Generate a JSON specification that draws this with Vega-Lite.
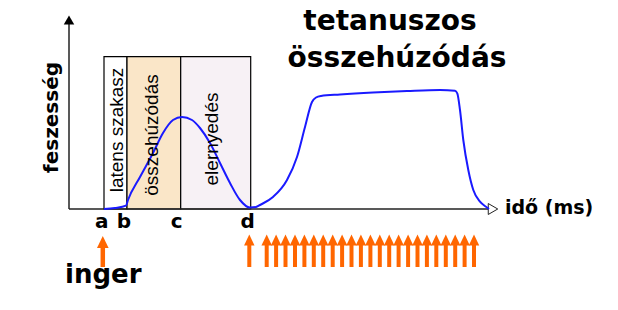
{
  "$schema": "https://vega.github.io/schema/vega-lite/v6.json",
  "width": 618,
  "height": 310,
  "padding": 0,
  "autosize": {"type": "none"},
  "background": "white",
  "config": {"view": {"stroke": null}},
  "datasets": {
    "phases": [
      {"phase": "latens", "t0": 35, "t1": 58, "f0": 0, "f1": 152.3},
      {"phase": "osszehuzodas", "t0": 58, "t1": 111.7, "f0": 0, "f1": 152.3},
      {"phase": "elernyedes", "t0": 111.7, "t1": 181.7, "f0": 0, "f1": 152.3}
    ],
    "axes": [
      {"t": 0, "f": 0, "t2": 0, "f2": 186},
      {"t": 0, "f": 0, "t2": 419, "f2": 0}
    ],
    "heads": [
      {"dir": "up", "t": 0, "f": 189},
      {"dir": "right", "t": 424, "f": 0}
    ],
    "curve": [
      {"t": 35, "f": 0}, {"t": 46, "f": 1}, {"t": 57, "f": 3.3}, {"t": 59, "f": 9},
      {"t": 71, "f": 32}, {"t": 84, "f": 56}, {"t": 94, "f": 76}, {"t": 104, "f": 89},
      {"t": 113, "f": 92}, {"t": 123, "f": 89}, {"t": 131, "f": 81}, {"t": 141, "f": 66},
      {"t": 151, "f": 46}, {"t": 161, "f": 26}, {"t": 171, "f": 9}, {"t": 181, "f": 1.5},
      {"t": 187, "f": 2}, {"t": 191, "f": 4}, {"t": 204, "f": 12}, {"t": 218, "f": 29},
      {"t": 228, "f": 52}, {"t": 236, "f": 82}, {"t": 243, "f": 107}, {"t": 247, "f": 111.5},
      {"t": 252, "f": 113}, {"t": 271, "f": 114.5}, {"t": 304, "f": 116.5}, {"t": 338, "f": 118},
      {"t": 371, "f": 119}, {"t": 386, "f": 118.3}, {"t": 388.3, "f": 115.7}, {"t": 391, "f": 99},
      {"t": 394.3, "f": 69}, {"t": 399.3, "f": 39}, {"t": 404.3, "f": 19}, {"t": 411, "f": 7.3},
      {"t": 417.7, "f": 1.7}, {"t": 420, "f": 0}
    ],
    "arrows": [
      {"kind": "inger", "t": 33.8},
      {"kind": "tetanusz", "t": 180.3},
      {"kind": "tetanusz", "t": 197.7}, {"kind": "tetanusz", "t": 207.1},
      {"kind": "tetanusz", "t": 216.5}, {"kind": "tetanusz", "t": 226.0},
      {"kind": "tetanusz", "t": 235.4}, {"kind": "tetanusz", "t": 244.8},
      {"kind": "tetanusz", "t": 254.2}, {"kind": "tetanusz", "t": 263.7},
      {"kind": "tetanusz", "t": 273.1}, {"kind": "tetanusz", "t": 282.5},
      {"kind": "tetanusz", "t": 291.9}, {"kind": "tetanusz", "t": 301.4},
      {"kind": "tetanusz", "t": 310.8}, {"kind": "tetanusz", "t": 320.2},
      {"kind": "tetanusz", "t": 329.6}, {"kind": "tetanusz", "t": 339.1},
      {"kind": "tetanusz", "t": 348.5}, {"kind": "tetanusz", "t": 357.9},
      {"kind": "tetanusz", "t": 367.3}, {"kind": "tetanusz", "t": 376.8},
      {"kind": "tetanusz", "t": 386.2}, {"kind": "tetanusz", "t": 395.6},
      {"kind": "tetanusz", "t": 405.0}
    ],
    "labels": [
      {"role": "title", "text": "tetanuszos", "t": 321, "f": 179},
      {"role": "title", "text": "összehúzódás", "t": 328, "f": 142},
      {"role": "point", "text": "a", "t": 32.7, "f": -19},
      {"role": "point", "text": "b", "t": 55, "f": -19},
      {"role": "point", "text": "c", "t": 107.7, "f": -19},
      {"role": "point", "text": "d", "t": 178.7, "f": -19},
      {"role": "inger", "text": "inger", "t": 34.3, "f": -74},
      {"role": "xlabel", "text": "idő (ms)", "t": 436, "f": -5},
      {"role": "ylabel", "text": "feszesség", "t": -10.7, "f": 91.5},
      {"role": "phase", "text": "latens szakasz", "t": 54, "f": 79},
      {"role": "phase", "text": "összehúzódás", "t": 89.3, "f": 74},
      {"role": "phase", "text": "elernyedés", "t": 149.3, "f": 70}
    ]
  },
  "layer": [
    {
      "data": {"name": "phases"},
      "mark": {"type": "rect", "stroke": "black", "strokeWidth": 1.2},
      "encoding": {
        "x": {"field": "t0", "type": "quantitative", "scale": {"domain": [-69, 549], "nice": false, "zero": false}, "axis": null},
        "x2": {"field": "t1"},
        "y": {"field": "f0", "type": "quantitative", "scale": {"domain": [-101, 209], "nice": false, "zero": false}, "axis": null},
        "y2": {"field": "f1"},
        "color": {"field": "phase", "type": "nominal", "legend": null,
          "scale": {"domain": ["latens", "osszehuzodas", "elernyedes"], "range": ["#ffffff", "#fae6c8", "#f7f1f5"]}}
      }
    },
    {
      "data": {"name": "axes"},
      "mark": {"type": "rule", "color": "#222222", "strokeWidth": 1.5},
      "encoding": {
        "x": {"field": "t", "type": "quantitative", "scale": {"domain": [-69, 549], "nice": false, "zero": false}, "axis": null},
        "x2": {"field": "t2"},
        "y": {"field": "f", "type": "quantitative", "scale": {"domain": [-101, 209], "nice": false, "zero": false}, "axis": null},
        "y2": {"field": "f2"}
      }
    },
    {
      "data": {"name": "heads"},
      "transform": [{"filter": "datum.dir === 'up'"}],
      "mark": {"type": "point", "shape": "triangle-up", "filled": true, "color": "black", "size": 110, "opacity": 1},
      "encoding": {
        "x": {"field": "t", "type": "quantitative", "scale": {"domain": [-69, 549], "nice": false, "zero": false}, "axis": null},
        "y": {"field": "f", "type": "quantitative", "scale": {"domain": [-101, 209], "nice": false, "zero": false}, "axis": null}
      }
    },
    {
      "data": {"name": "heads"},
      "transform": [{"filter": "datum.dir === 'right'"}],
      "mark": {"type": "point", "shape": "triangle-right", "filled": true, "fill": "white", "stroke": "#222222", "strokeWidth": 1, "size": 120, "opacity": 1},
      "encoding": {
        "x": {"field": "t", "type": "quantitative", "scale": {"domain": [-69, 549], "nice": false, "zero": false}, "axis": null},
        "y": {"field": "f", "type": "quantitative", "scale": {"domain": [-101, 209], "nice": false, "zero": false}, "axis": null}
      }
    },
    {
      "data": {"name": "curve"},
      "mark": {"type": "line", "color": "#1a1aff", "strokeWidth": 2, "interpolate": "monotone"},
      "encoding": {
        "x": {"field": "t", "type": "quantitative", "scale": {"domain": [-69, 549], "nice": false, "zero": false}, "axis": null},
        "y": {"field": "f", "type": "quantitative", "scale": {"domain": [-101, 209], "nice": false, "zero": false}, "axis": null}
      }
    },
    {
      "data": {"name": "arrows"},
      "transform": [{"filter": "datum.kind === 'tetanusz'"}],
      "mark": {"type": "rule", "color": "#ff6600", "strokeWidth": 4},
      "encoding": {
        "x": {"field": "t", "type": "quantitative", "scale": {"domain": [-69, 549], "nice": false, "zero": false}, "axis": null},
        "y": {"datum": -34, "type": "quantitative", "scale": {"domain": [-101, 209], "nice": false, "zero": false}, "axis": null},
        "y2": {"datum": -58}
      }
    },
    {
      "data": {"name": "arrows"},
      "transform": [{"filter": "datum.kind === 'tetanusz'"}],
      "mark": {"type": "point", "shape": "M0,-1L0.95,1L-0.95,1Z", "filled": true, "color": "#ff6600", "size": 121, "opacity": 1},
      "encoding": {
        "x": {"field": "t", "type": "quantitative", "scale": {"domain": [-69, 549], "nice": false, "zero": false}, "axis": null},
        "y": {"datum": -31, "type": "quantitative", "scale": {"domain": [-101, 209], "nice": false, "zero": false}, "axis": null}
      }
    },
    {
      "data": {"name": "arrows"},
      "transform": [{"filter": "datum.kind === 'inger'"}],
      "mark": {"type": "rule", "color": "#ff6600", "strokeWidth": 4.5},
      "encoding": {
        "x": {"field": "t", "type": "quantitative", "scale": {"domain": [-69, 549], "nice": false, "zero": false}, "axis": null},
        "y": {"datum": -36, "type": "quantitative", "scale": {"domain": [-101, 209], "nice": false, "zero": false}, "axis": null},
        "y2": {"datum": -58}
      }
    },
    {
      "data": {"name": "arrows"},
      "transform": [{"filter": "datum.kind === 'inger'"}],
      "mark": {"type": "point", "shape": "M0,-1L0.95,1L-0.95,1Z", "filled": true, "color": "#ff6600", "size": 150, "opacity": 1},
      "encoding": {
        "x": {"field": "t", "type": "quantitative", "scale": {"domain": [-69, 549], "nice": false, "zero": false}, "axis": null},
        "y": {"datum": -33, "type": "quantitative", "scale": {"domain": [-101, 209], "nice": false, "zero": false}, "axis": null}
      }
    },
    {
      "data": {"name": "labels"},
      "transform": [{"filter": "datum.role === 'title'"}],
      "mark": {"type": "text", "font": "DejaVu Sans", "fontWeight": "bold", "fontSize": 28, "align": "center", "baseline": "alphabetic", "color": "black"},
      "encoding": {
        "x": {"field": "t", "type": "quantitative", "scale": {"domain": [-69, 549], "nice": false, "zero": false}, "axis": null},
        "y": {"field": "f", "type": "quantitative", "scale": {"domain": [-101, 209], "nice": false, "zero": false}, "axis": null},
        "text": {"field": "text"}
      }
    },
    {
      "data": {"name": "labels"},
      "transform": [{"filter": "datum.role === 'point'"}],
      "mark": {"type": "text", "font": "DejaVu Sans", "fontWeight": "bold", "fontSize": 20, "align": "center", "baseline": "alphabetic", "color": "black"},
      "encoding": {
        "x": {"field": "t", "type": "quantitative", "scale": {"domain": [-69, 549], "nice": false, "zero": false}, "axis": null},
        "y": {"field": "f", "type": "quantitative", "scale": {"domain": [-101, 209], "nice": false, "zero": false}, "axis": null},
        "text": {"field": "text"}
      }
    },
    {
      "data": {"name": "labels"},
      "transform": [{"filter": "datum.role === 'inger'"}],
      "mark": {"type": "text", "font": "DejaVu Sans", "fontWeight": "bold", "fontSize": 26, "align": "center", "baseline": "alphabetic", "color": "black"},
      "encoding": {
        "x": {"field": "t", "type": "quantitative", "scale": {"domain": [-69, 549], "nice": false, "zero": false}, "axis": null},
        "y": {"field": "f", "type": "quantitative", "scale": {"domain": [-101, 209], "nice": false, "zero": false}, "axis": null},
        "text": {"field": "text"}
      }
    },
    {
      "data": {"name": "labels"},
      "transform": [{"filter": "datum.role === 'xlabel'"}],
      "mark": {"type": "text", "font": "DejaVu Sans", "fontWeight": "bold", "fontSize": 19, "align": "left", "baseline": "alphabetic", "color": "black"},
      "encoding": {
        "x": {"field": "t", "type": "quantitative", "scale": {"domain": [-69, 549], "nice": false, "zero": false}, "axis": null},
        "y": {"field": "f", "type": "quantitative", "scale": {"domain": [-101, 209], "nice": false, "zero": false}, "axis": null},
        "text": {"field": "text"}
      }
    },
    {
      "data": {"name": "labels"},
      "transform": [{"filter": "datum.role === 'ylabel'"}],
      "mark": {"type": "text", "font": "DejaVu Sans", "fontWeight": "bold", "fontSize": 20, "angle": 270, "align": "center", "baseline": "alphabetic", "color": "black"},
      "encoding": {
        "x": {"field": "t", "type": "quantitative", "scale": {"domain": [-69, 549], "nice": false, "zero": false}, "axis": null},
        "y": {"field": "f", "type": "quantitative", "scale": {"domain": [-101, 209], "nice": false, "zero": false}, "axis": null},
        "text": {"field": "text"}
      }
    },
    {
      "data": {"name": "labels"},
      "transform": [{"filter": "datum.role === 'phase'"}],
      "mark": {"type": "text", "font": "Liberation Sans", "fontSize": 19, "angle": 270, "align": "center", "baseline": "alphabetic", "color": "black"},
      "encoding": {
        "x": {"field": "t", "type": "quantitative", "scale": {"domain": [-69, 549], "nice": false, "zero": false}, "axis": null},
        "y": {"field": "f", "type": "quantitative", "scale": {"domain": [-101, 209], "nice": false, "zero": false}, "axis": null},
        "text": {"field": "text"}
      }
    }
  ]
}
